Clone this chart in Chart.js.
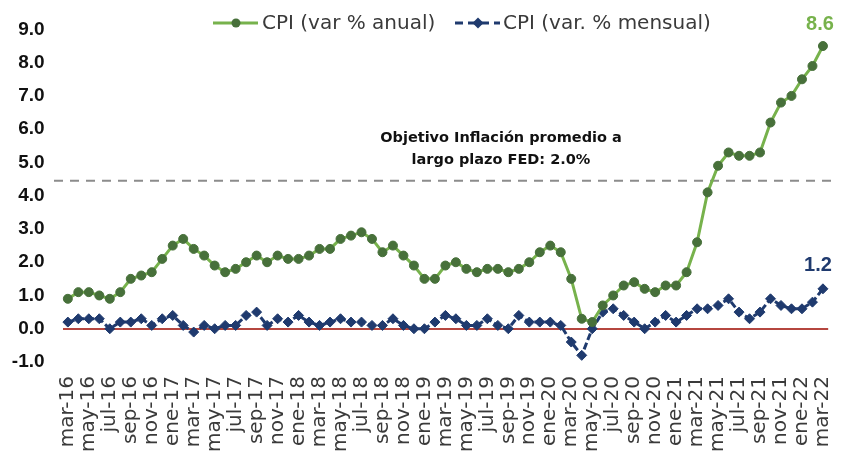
<!DOCTYPE html>
<html>
<head>
<meta charset="utf-8">
<script src="https://cdn.jsdelivr.net/npm/chart.js@4.4.1/dist/chart.umd.min.js"></script>
<style>
  html, body { margin: 0; padding: 0; background: #fff; }
</style>
</head>
<body>
<canvas id="cpiChart" width="861" height="457"></canvas>
<script>
// meses mar-16 .. mar-22
var meses = [
  'mar-16','abr-16','may-16','jun-16','jul-16','ago-16','sep-16','oct-16','nov-16','dic-16',
  'ene-17','feb-17','mar-17','abr-17','may-17','jun-17','jul-17','ago-17','sep-17','oct-17','nov-17','dic-17',
  'ene-18','feb-18','mar-18','abr-18','may-18','jun-18','jul-18','ago-18','sep-18','oct-18','nov-18','dic-18',
  'ene-19','feb-19','mar-19','abr-19','may-19','jun-19','jul-19','ago-19','sep-19','oct-19','nov-19','dic-19',
  'ene-20','feb-20','mar-20','abr-20','may-20','jun-20','jul-20','ago-20','sep-20','oct-20','nov-20','dic-20',
  'ene-21','feb-21','mar-21','abr-21','may-21','jun-21','jul-21','ago-21','sep-21','oct-21','nov-21','dic-21',
  'ene-22','feb-22','mar-22'
];

var cpiAnual = [
  0.9, 1.1, 1.1, 1.0, 0.9, 1.1, 1.5, 1.6, 1.7, 2.1,
  2.5, 2.7, 2.4, 2.2, 1.9, 1.7, 1.8, 2.0, 2.2, 2.0, 2.2, 2.1,
  2.1, 2.2, 2.4, 2.4, 2.7, 2.8, 2.9, 2.7, 2.3, 2.5, 2.2, 1.9,
  1.5, 1.5, 1.9, 2.0, 1.8, 1.7, 1.8, 1.8, 1.7, 1.8, 2.0, 2.3,
  2.5, 2.3, 1.5, 0.3, 0.2, 0.7, 1.0, 1.3, 1.4, 1.2, 1.1, 1.3,
  1.3, 1.7, 2.6, 4.1, 4.9, 5.3, 5.2, 5.2, 5.3, 6.2, 6.8, 7.0,
  7.5, 7.9, 8.5
];

var cpiMensual = [
  0.2, 0.3, 0.3, 0.3, 0.0, 0.2, 0.2, 0.3, 0.1, 0.3,
  0.4, 0.1, -0.1, 0.1, 0.0, 0.1, 0.1, 0.4, 0.5, 0.1, 0.3, 0.2,
  0.4, 0.2, 0.1, 0.2, 0.3, 0.2, 0.2, 0.1, 0.1, 0.3, 0.1, 0.0,
  0.0, 0.2, 0.4, 0.3, 0.1, 0.1, 0.3, 0.1, 0.0, 0.4, 0.2, 0.2,
  0.2, 0.1, -0.4, -0.8, 0.0, 0.5, 0.6, 0.4, 0.2, 0.0, 0.2, 0.4,
  0.2, 0.4, 0.6, 0.6, 0.7, 0.9, 0.5, 0.3, 0.5, 0.9, 0.7, 0.6,
  0.6, 0.8, 1.2
];

var nombresSeries = ['CPI (var % anual)', 'CPI (var. % mensual)'];
var etiquetasFinales = ['8.6', '1.2'];
var lineaObjetivo = 4.45;
var textoObjetivo = ['Objetivo Inflación promedio a', 'largo plazo FED: 2.0%'];

var verde = '#77B24C', verdeOscuro = '#47703A', azul = '#1F3A6E';

var extras = {
  id: 'extras',
  beforeDatasetsDraw: function (chart) {
    var c = chart.ctx, area = chart.chartArea;
    var y = chart.scales.y.getPixelForValue(lineaObjetivo);
    c.save();
    c.strokeStyle = '#8C8C8C';
    c.lineWidth = 2;
    c.setLineDash([9, 7]);
    c.beginPath();
    c.moveTo(54, y);
    c.lineTo(area.right + 3, y);
    c.stroke();
    c.setLineDash([]);
    c.fillStyle = '#111';
    c.font = 'bold 14.5px "DejaVu Sans"';
    c.textAlign = 'center';
    c.textBaseline = 'middle';
    c.fillText(textoObjetivo[0], 501, y - 42);
    c.fillText(textoObjetivo[1], 501, y - 20);
    c.restore();
  },
  afterDatasetsDraw: function (chart) {
    var c = chart.ctx;
    var p0 = chart.getDatasetMeta(0).data[cpiAnual.length - 1];
    var p1 = chart.getDatasetMeta(1).data[cpiMensual.length - 1];
    c.save();
    c.font = 'bold 20px "Liberation Sans"';
    c.textAlign = 'center';
    c.textBaseline = 'middle';
    c.fillStyle = verde;
    c.fillText(etiquetasFinales[0], p0.x - 3, p0.y - 22);
    c.fillStyle = azul;
    c.fillText(etiquetasFinales[1], p1.x - 5, p1.y - 23);

    // leyenda
    var ly = 23;
    c.lineWidth = 3;
    c.strokeStyle = verde;
    c.beginPath(); c.moveTo(213, ly); c.lineTo(258, ly); c.stroke();
    c.fillStyle = verdeOscuro;
    c.beginPath(); c.arc(236, ly, 4.5, 0, Math.PI * 2); c.fill();
    c.strokeStyle = azul;
    c.setLineDash([8, 5]);
    c.beginPath(); c.moveTo(455, ly); c.lineTo(500, ly); c.stroke();
    c.setLineDash([]);
    c.fillStyle = azul;
    c.beginPath();
    c.moveTo(478, ly - 5.5); c.lineTo(483.5, ly); c.lineTo(478, ly + 5.5); c.lineTo(472.5, ly);
    c.closePath(); c.fill();
    c.fillStyle = '#3A3A3A';
    c.font = '20px "DejaVu Sans"';
    c.textAlign = 'left';
    c.fillText(nombresSeries[0], 262, ly + 1);
    c.fillText(nombresSeries[1], 503, ly + 1);
    c.restore();
  }
};

var ctx = document.getElementById('cpiChart');
var cpiChart = new Chart(ctx, {
  type: 'line',
  data: {
    labels: meses,
    datasets: [
      {
        label: nombresSeries[0],
        data: cpiAnual,
        borderColor: verde,
        borderWidth: 3,
        pointStyle: 'circle',
        pointRadius: 4.5,
        pointBackgroundColor: verdeOscuro,
        pointBorderColor: verdeOscuro,
        pointBorderWidth: 1,
        tension: 0
      },
      {
        label: nombresSeries[1],
        data: cpiMensual,
        borderColor: azul,
        borderWidth: 3,
        borderDash: [7, 3],
        pointStyle: 'rectRot',
        pointRadius: 5,
        pointBackgroundColor: azul,
        pointBorderColor: azul,
        pointBorderWidth: 1,
        tension: 0
      }
    ]
  },
  options: {
    responsive: false,
    animation: false,
    layout: { padding: { top: 24, right: 8, left: 0, bottom: 0 } },
    plugins: {
      legend: { display: false },
      tooltip: { enabled: false }
    },
    scales: {
      x: {
        offset: true,
        grid: { display: false, drawTicks: false },
        border: { display: false },
        ticks: {
          autoSkip: false,
          minRotation: 90,
          maxRotation: 90,
          padding: 14,
          color: '#3A3A3A',
          font: { family: 'DejaVu Sans', size: 20 },
          callback: function (v, i) { return i % 2 === 0 ? this.getLabelForValue(v) : ''; }
        },
        afterFit: function (s) { s.height = 95; }
      },
      y: {
        min: -1,
        max: 9,
        ticks: {
          stepSize: 1,
          padding: 18,
          color: '#111',
          font: { family: 'Liberation Sans', size: 19, weight: 'bold' },
          callback: function (v) { return v.toFixed(1); }
        },
        grid: {
          drawTicks: false,
          lineWidth: 2,
          color: function (c) { return c.tick && c.tick.value === 0 ? '#B5463F' : 'rgba(0,0,0,0)'; }
        },
        border: { display: false },
        afterFit: function (s) { s.width = 62.6; }
      }
    }
  },
  plugins: [extras]
});
</script>
</body>
</html>
